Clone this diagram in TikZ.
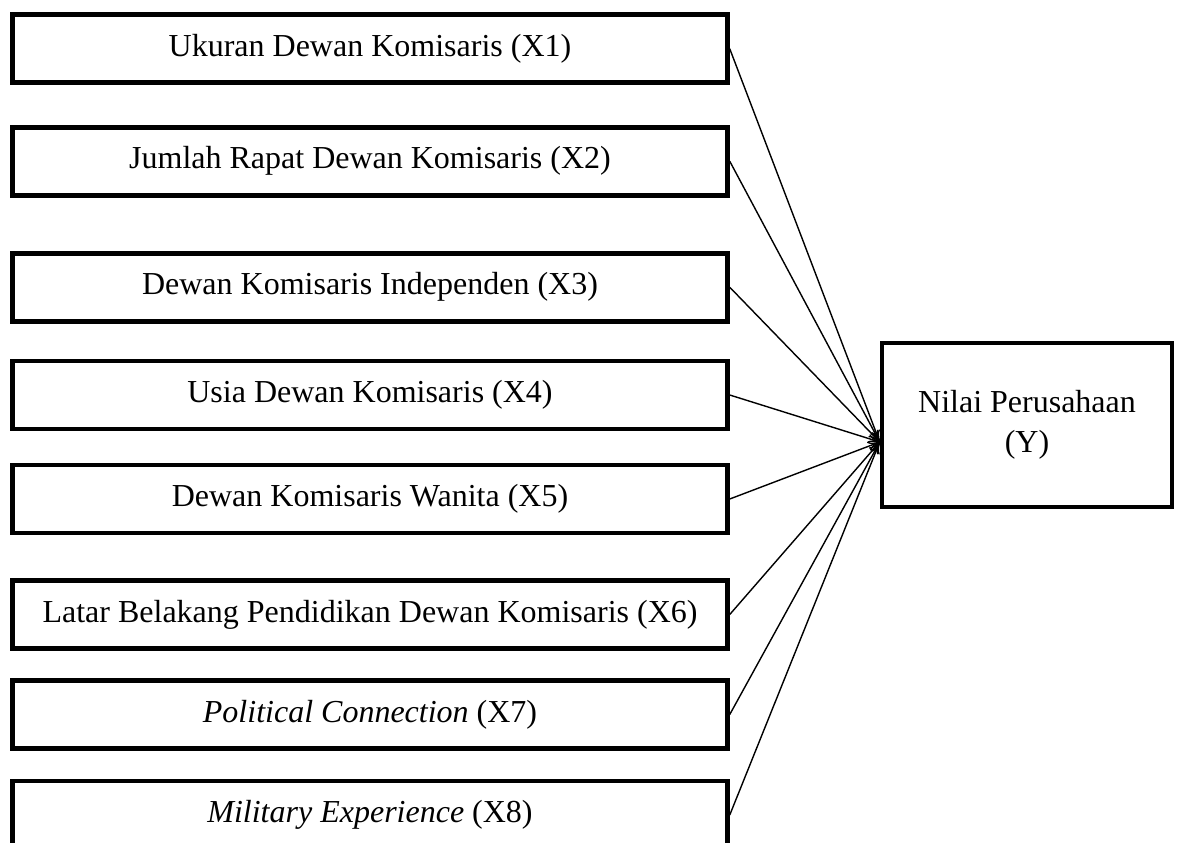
\documentclass[tikz,border=0pt]{standalone}
\usepackage{fontspec}
\setmainfont{Liberation Serif}
\usetikzlibrary{arrows.meta,calc}
\begin{document}
\begin{tikzpicture}[x=1pt,y=-1pt,
  varbox/.style={draw,line width=4.5pt,minimum width=715pt,minimum height=68pt,inner sep=0pt,
    font=\fontsize{32}{40}\selectfont,align=center},
  ybox/.style={draw,line width=4.5pt,minimum width=290pt,minimum height=164pt,inner sep=0pt,
    font=\fontsize{32}{40}\selectfont,align=center},
  link/.style={line width=1.4pt,-{To[length=12pt,width=9pt]}}]
\useasboundingbox (0,0) rectangle (1179,843);
\node[varbox] (b1) at (370,48.75) {Ukuran Dewan Komisaris (X1)};
\node[varbox] (b2) at (370,161.25) {Jumlah Rapat Dewan Komisaris (X2)};
\node[varbox] (b3) at (370,287.25) {Dewan Komisaris Independen (X3)};
\node[varbox] (b4) at (370,395) {Usia Dewan Komisaris (X4)};
\node[varbox] (b5) at (370,499) {Dewan Komisaris Wanita (X5)};
\node[varbox] (b6) at (370,614.5) {Latar Belakang Pendidikan Dewan Komisaris (X6)};
\node[varbox] (b7) at (370,714.5) {\textit{Political Connection} (X7)};
\node[varbox] (b8) at (370,815) {\textit{Military Experience} (X8)};
\node[ybox] (y) at (1027,425) {\raisebox{-4pt}{\parbox{280pt}{\centering Nilai Perusahaan\\(Y)}}};
\coordinate (tip) at ($(y.west)+(0,17)$);
\foreach \b in {b1,b2,b3,b4,b5,b6,b7,b8}
  \draw[link] (\b.east) -- (tip);
\end{tikzpicture}
\end{document}
